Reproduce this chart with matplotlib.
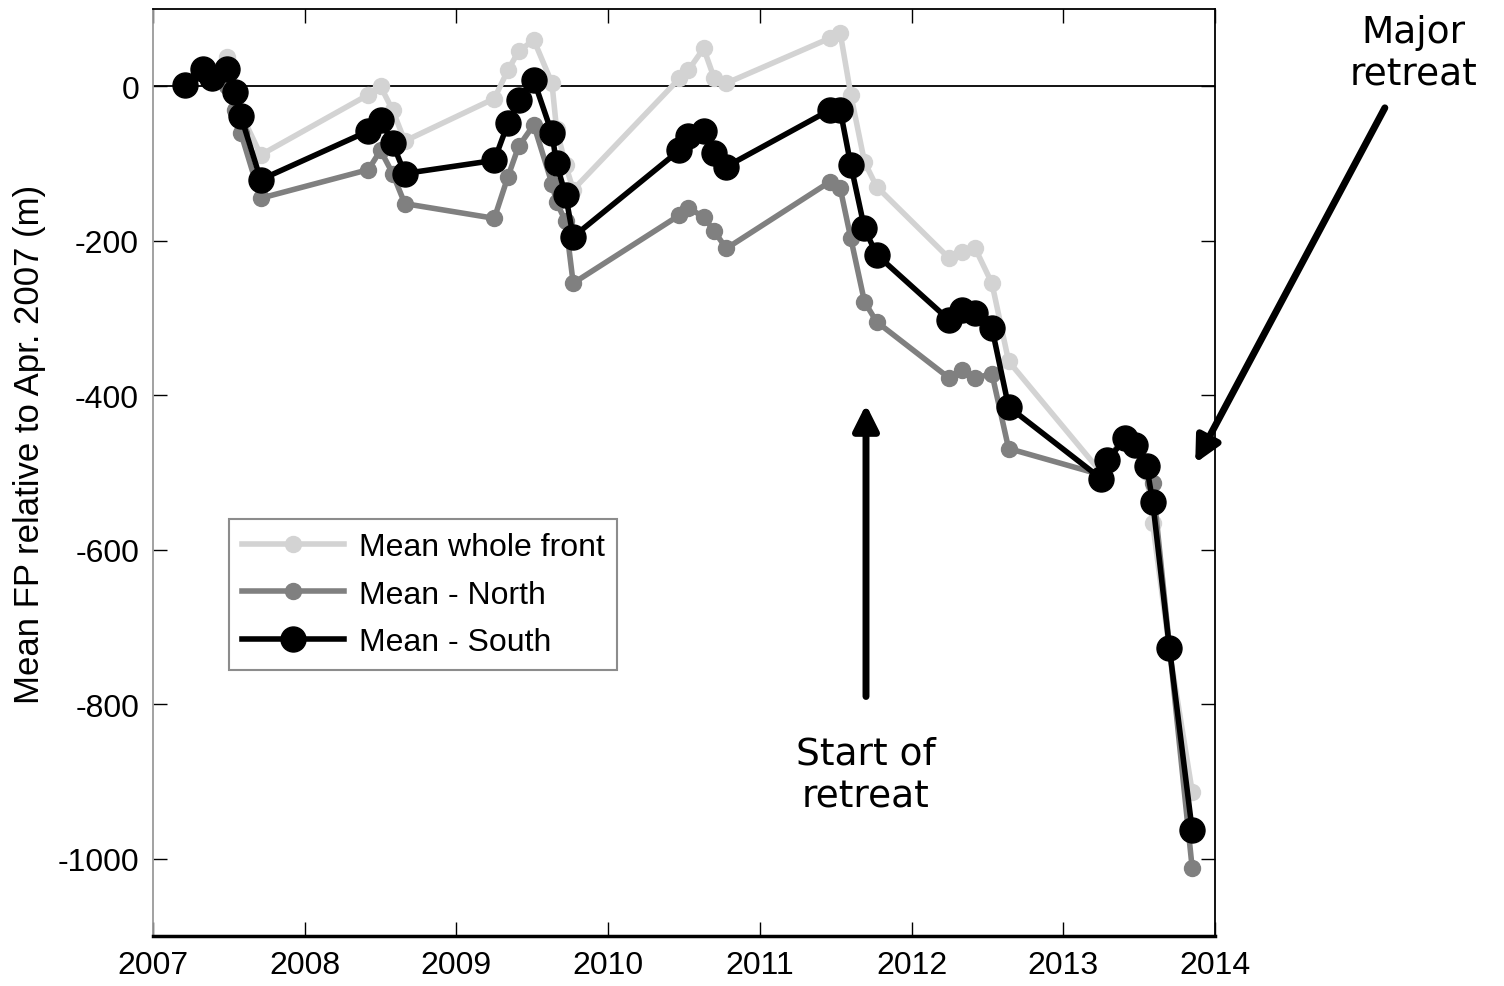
import matplotlib.pyplot as plt

plt.rcParams["font.family"] = ["Liberation Sans", "DejaVu Sans"]
plt.rcParams["axes.unicode_minus"] = False

# ---------------------------------------------------------------------------
# Data: front position (m) relative to April 2007
# ---------------------------------------------------------------------------

dates = [
    2007.21, 2007.33, 2007.39, 2007.49, 2007.54, 2007.58, 2007.71,
    2008.42, 2008.50, 2008.58, 2008.66,
    2009.25, 2009.34, 2009.41, 2009.51, 2009.63, 2009.66, 2009.72, 2009.77,
    2010.47, 2010.53, 2010.63, 2010.70, 2010.78,
    2011.46, 2011.53, 2011.60, 2011.69, 2011.77,
    2012.25, 2012.33, 2012.42, 2012.53, 2012.64,
    2013.25, 2013.29, 2013.41, 2013.47, 2013.55, 2013.59, 2013.70, 2013.85,
]

whole_front = [
    0, 20, 12, 38, -10, -35, -89,
    -11, 0, -31, -71,
    -16, 21, 45, 60, 4, -55, -102, -134,
    10, 21, 49, 10, 4,
    62, 69, -11, -98, -130,
    -223, -214, -210, -255, -356,
    -500, -485, -455, -465, -500, -566, -730, -913,
]

north = [
    0, 18, 5, 0, -31, -61, -145,
    -108, -83, -113, -152,
    -171, -117, -78, -50, -126, -150, -175, -255,
    -167, -158, -169, -188, -210,
    -124, -132, -197, -279, -305,
    -378, -367, -378, -372, -469,
    -503, -485, -452, -462, -497, -514, -725, -1012,
]

south = [
    1, 22, 10, 22, -7, -39, -121,
    -58, -44, -74, -113,
    -96, -48, -18, 8, -61, -100, -141, -195,
    -83, -65, -58, -87, -104,
    -31, -31, -102, -184, -218,
    -303, -290, -294, -313, -415,
    -508, -484, -456, -464, -492, -538, -727, -963,
]

year_ticks = list(range(2007, 2015))
fp_ticks = list(range(-1000, 1, 200))

# ---------------------------------------------------------------------------
# Figure
# ---------------------------------------------------------------------------

fig = plt.figure(figsize=(15.04, 9.87), dpi=100)
ax = fig.add_axes([0.1017, 0.0507, 0.7061, 0.9392])

ax.axhline(0, color="black", lw=1.3, zorder=1)

ax.plot(dates, whole_front, "-o", color="#d3d3d3", lw=4, ms=11.5,
        label="Mean whole front", zorder=2)
ax.plot(dates, north, "-o", color="#808080", lw=4, ms=11.5,
        label="Mean - North", zorder=3)
ax.plot(dates, south, "-o", color="black", lw=4, ms=18,
        label="Mean - South", zorder=4)

ax.set_xlim(2007, 2014)
ax.set_ylim(-1100, 100)
ax.set_xticks(year_ticks)
ax.set_yticks(fp_ticks)
ax.tick_params(direction="in", length=10, width=1, top=True, right=True,
               labelsize=23, pad=10)
for side in ("top", "bottom", "left", "right"):
    ax.spines[side].set_linewidth(1.3)
ax.spines["left"].set_color("#9a9a9a")
ax.spines["bottom"].set_linewidth(2.5)

ax.set_ylabel("Mean FP relative to Apr. 2007 (m)", fontsize=25)
ax.yaxis.set_label_coords(-0.101, 0.531)

leg = ax.legend(loc="lower left", bbox_to_anchor=(0.072, 0.287), fontsize=23,
                frameon=True, fancybox=False, handlelength=3.2,
                borderpad=0.4, labelspacing=0.55, handletextpad=0.45,
                borderaxespad=0)
leg.get_frame().set_edgecolor("#707070")
leg.get_frame().set_linewidth(1.5)

# ---------------------------------------------------------------------------
# Annotations
# ---------------------------------------------------------------------------

arrow_kw = dict(arrowstyle="-|>", lw=5, color="black", mutation_scale=38,
                shrinkA=0, shrinkB=0)

ax.annotate("", xy=(2011.70, -412), xytext=(2011.70, -790),
            arrowprops=arrow_kw, annotation_clip=False)
ax.text(2011.70, -892, "Start of\nretreat", ha="center", va="center",
        fontsize=27, family="DejaVu Sans", linespacing=1.25)

ax.annotate("", xy=(2013.87, -488), xytext=(2015.12, -28),
            arrowprops=arrow_kw, annotation_clip=False)
ax.text(2015.31, 43, "Major\nretreat", ha="center", va="center",
        fontsize=27, family="DejaVu Sans", linespacing=1.25, clip_on=False)

fig.savefig("out.png", dpi=100)
plt.close(fig)
